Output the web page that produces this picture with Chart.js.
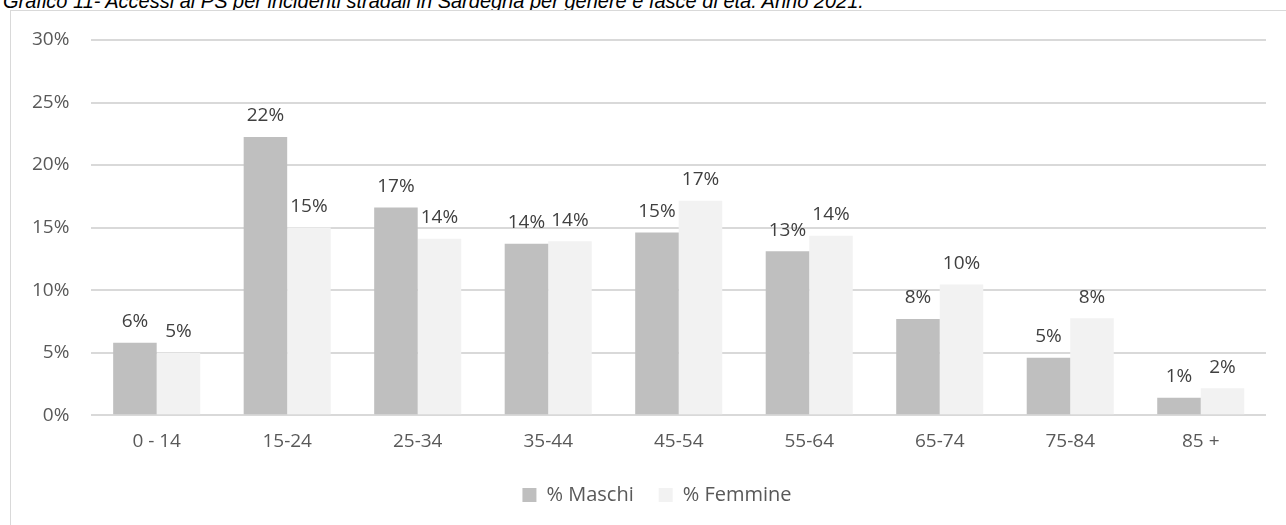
<!DOCTYPE html>
<html>
<head>
<meta charset="utf-8">
<script src="https://cdn.jsdelivr.net/npm/chart.js@4/dist/chart.umd.min.js"></script>
<style>
  body { margin: 0; background: #fff; overflow: hidden; }
  #title {
    position: absolute; left: 3px; top: -10px; line-height: 20px;
    font: italic 20px "Liberation Sans", Arial, sans-serif; color: #000;
    white-space: nowrap;
  }
  #frame {
    position: absolute; left: 10px; top: 10px; width: 1300px; height: 540px;
    border: 1px solid #d9d9d9; background: #fff;
  }
  #wrap { position: absolute; left: 0; top: 0; width: 1286px; height: 525px; }
</style>
</head>
<body>
<div id="title">Grafico 11- Accessi al PS per incidenti stradali in Sardegna per genere e fasce di età. Anno 2021.</div>
<div id="frame"></div>
<div id="wrap"><canvas id="chart"></canvas></div>
<script>
// age groups on the x axis
const ageGroups = ['0 - 14', '15-24', '25-34', '35-44', '45-54', '55-64', '65-74', '75-84', '85 +'];
// percentages
const maschi = [5.8, 22.25, 16.6, 13.7, 14.6, 13.1, 7.7, 4.6, 1.4];
const femmine = [5.0, 15.0, 14.1, 13.9, 17.15, 14.35, 10.45, 7.75, 2.15];
const yTicks = [0, 5, 10, 15, 20, 25, 30];

const FONT = '"Open Sans", sans-serif';

// draws the rounded value above every bar
const barLabels = {
  id: 'barLabels',
  afterDatasetsDraw(chart) {
    const ctx = chart.ctx;
    ctx.save();
    ctx.font = '19px ' + FONT;
    ctx.fillStyle = '#404040';
    ctx.textAlign = 'center';
    ctx.textBaseline = 'middle';
    chart.data.datasets.forEach((ds, i) => {
      chart.getDatasetMeta(i).data.forEach((bar, j) => {
        ctx.fillText(Math.round(ds.data[j]) + '%', bar.x, bar.y - 21);
      });
    });
    ctx.restore();
  }
};

// the legend sits a bit right of the plot centre in the original
const legendShift = {
  id: 'legendShift',
  afterLayout(chart) {
    chart.legend.left += 19;
    chart.legend.right += 19;
  }
};

new Chart(document.getElementById('chart'), {
  type: 'bar',
  data: {
    labels: ageGroups,
    datasets: [
      { label: '% Maschi', data: maschi, backgroundColor: '#bfbfbf' },
      { label: '% Femmine', data: femmine, backgroundColor: '#f2f2f2' }
    ]
  },
  options: {
    responsive: true,
    maintainAspectRatio: false,
    animation: false,
    layout: { padding: { left: 10, right: 20, top: 40, bottom: 10 } },
    datasets: { bar: { categoryPercentage: 0.667, barPercentage: 1 } },
    scales: {
      x: {
        grid: { display: false },
        border: { display: false },
        ticks: { color: '#595959', font: { size: 19, family: FONT }, padding: 7 }
      },
      y: {
        min: 0,
        max: 30,
        afterBuildTicks: axis => { axis.ticks = yTicks.map(v => ({ value: v })); },
        grid: { color: '#d9d9d9', lineWidth: 2, drawTicks: false },
        border: { display: false },
        ticks: {
          color: '#595959',
          font: { size: 19, family: FONT },
          padding: 22,
          callback: v => v + '%'
        }
      }
    },
    plugins: {
      legend: {
        position: 'bottom',
        labels: {
          boxWidth: 14,
          boxHeight: 14,
          color: '#595959',
          font: { size: 20, family: FONT },
          padding: 25
        }
      },
      tooltip: { enabled: false }
    }
  },
  plugins: [barLabels, legendShift]
});
</script>
</body>
</html>
